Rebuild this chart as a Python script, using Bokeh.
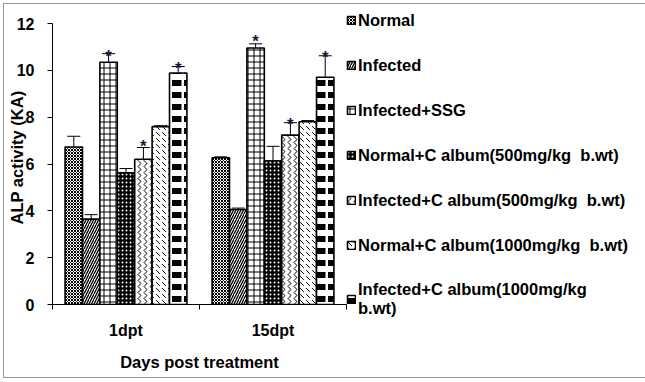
import math
from bokeh.plotting import figure
from bokeh.models import (Range1d, FixedTicker, ColumnDataSource, Whisker, TeeHead,
                          Legend, LegendItem)
from bokeh.core.properties import value
from bokeh.embed import file_html
from bokeh.resources import INLINE

# ---------------- data ----------------
days = ["1dpt", "15dpt"]
series = ["Normal", "Infected", "Infected+SSG",
          "Normal+C album(500mg/kg  b.wt)", "Infected+C album(500mg/kg  b.wt)",
          "Normal+C album(1000mg/kg  b.wt)", "Infected+C album(1000mg/kg\nb.wt)"]
means_1dpt = [6.73, 3.65, 10.35, 5.63, 6.21, 7.60, 9.89]
errs_1dpt = [0.46, 0.19, 0.37, 0.18, 0.50, 0.04, 0.28]
means_15dpt = [6.27, 4.06, 10.96, 6.14, 7.24, 7.81, 9.71]
errs_15dpt = [0.04, 0.06, 0.18, 0.62, 0.53, 0.05, 0.92]
# asterisk (significance) baselines, None = no asterisk
stars_1dpt = [None, None, 10.50, None, 6.66, None, 10.00]
stars_15dpt = [None, None, 11.15, None, 7.59, None, 10.47]
y_ticks = [0, 2, 4, 6, 8, 10, 12]
y_title = "ALP activity (KA)"
x_title = "Days post treatment"

# ---------------- fill styles per series ----------------
styles = [
    dict(fill_color="white", hatch_pattern="diagonal_cross", hatch_scale=3, hatch_weight=1),
    dict(fill_color="white", hatch_pattern="right_diagonal_line", hatch_scale=5, hatch_weight=1.3),
    dict(fill_color="white", hatch_pattern="cross", hatch_scale=6, hatch_weight=1),
    dict(fill_color="black", hatch_pattern="dot", hatch_scale=4, hatch_weight=1, hatch_color="white"),
    dict(fill_color="white", hatch_pattern="vertical_wave", hatch_scale=6, hatch_weight=1),
    dict(fill_color="white", hatch_pattern="left_diagonal_dash", hatch_scale=6, hatch_weight=1),
    dict(fill_color="white", hatch_pattern="horizontal_dash", hatch_scale=12, hatch_weight=6),
]

FONT = "Liberation Sans"
p = figure(frame_width=294, frame_height=294, output_backend="svg", toolbar_location=None,
           x_range=Range1d(0, 2), y_range=Range1d(0, 12.564),
           min_border_left=48, min_border_right=291, min_border_top=6, min_border_bottom=73)
p.styles = {"border": "1px solid #9a9a9a", "margin-left": "3px", "margin-top": "3px"}
p.outline_line_color = None
p.grid.visible = False
p.background_fill_color = "white"
p.border_fill_color = "white"

n = len(series)
bw = 0.1184
legend_items = []
bases, uppers, lowers = [], [], []
sx, sy = [], []
for i in range(n):
    xs = [g + 0.5 + (i - (n - 1) / 2) * bw for g in range(len(days))]
    tops = [means_1dpt[i], means_15dpt[i]]
    errs = [errs_1dpt[i], errs_15dpt[i]]
    src = ColumnDataSource(dict(x=xs, top=tops))
    st = dict(hatch_color="black")
    st.update(styles[i])
    r = p.vbar(x="x", top="top", width=bw, source=src,
               line_color="black", line_width=1.6, **st)
    legend_items.append(LegendItem(label=series[i], renderers=[r]))
    for x, t, e in zip(xs, tops, errs):
        bases.append(x); uppers.append(t + e); lowers.append(t - e)
    for x, s in zip(xs, [stars_1dpt[i], stars_15dpt[i]]):
        if s is not None:
            sx.append(x); sy.append(s)

wsrc = ColumnDataSource(dict(base=bases, upper=uppers, lower=lowers))
p.add_layout(Whisker(source=wsrc, base="base", upper="upper", lower="lower",
                     line_color="black", line_width=1,
                     upper_head=TeeHead(size=13, line_color="black", line_width=1),
                     lower_head=None))

p.text(x=sx, y=sy, text=["*"] * len(sx), text_font=value(FONT), text_font_style="bold",
       text_font_size="17px", text_align="center", text_baseline="alphabetic",
       text_color="#1a1a3a", y_offset=-2)

# axes
ya = p.yaxis[0]
ya.ticker = FixedTicker(ticks=y_ticks)
ya.bounds = (0, 12)
ya.axis_line_color = "black"
ya.major_tick_out = 5
ya.major_tick_in = 0
ya.minor_tick_line_color = None
ya.major_label_standoff = 13
ya.major_label_text_font = FONT
ya.major_label_text_font_style = "bold"
ya.major_label_text_font_size = "16px"
ya.major_label_text_color = "black"
ya.axis_label = y_title
ya.axis_label_standoff = -12
ya.axis_label_text_font = FONT
ya.axis_label_text_font_style = "bold"
ya.axis_label_text_font_size = "16.5px"
ya.axis_label_text_color = "black"

xa = p.xaxis[0]
centers = [g + 0.5 for g in range(len(days))]
xa.ticker = FixedTicker(ticks=centers, minor_ticks=list(range(len(days) + 1)))
xa.major_label_overrides = {c: d for c, d in zip(centers, days)}
xa.major_tick_line_color = None
xa.major_tick_out = 0
xa.major_tick_in = 0
xa.minor_tick_line_color = "black"
xa.minor_tick_out = 5
xa.minor_tick_in = 0
xa.axis_line_color = "black"
xa.major_label_standoff = 12
xa.major_label_text_font = FONT
xa.major_label_text_font_style = "bold"
xa.major_label_text_font_size = "16px"
xa.major_label_text_color = "black"
xa.axis_label = x_title
xa.axis_label_standoff = 11
xa.axis_label_text_font = FONT
xa.axis_label_text_font_style = "bold"
xa.axis_label_text_font_size = "16.5px"
xa.axis_label_text_color = "black"

legend = Legend(items=legend_items, location="top_left", orientation="vertical",
                glyph_width=10, glyph_height=10, label_standoff=2, label_height=20,
                spacing=25, padding=0, margin=0, border_line_color=None,
                background_fill_alpha=0, label_text_font=FONT, label_text_font_style="bold",
                label_text_font_size="16.5px", label_text_color="black")
p.add_layout(legend, "right")

open("out.html", "w").write(file_html(p, INLINE))
